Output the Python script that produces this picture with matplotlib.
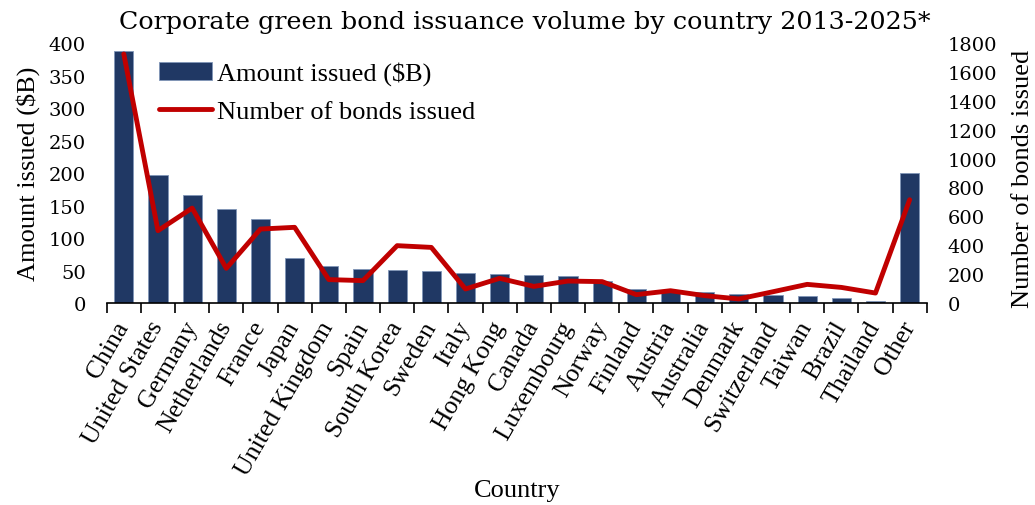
import matplotlib
matplotlib.use("Agg")
import matplotlib.pyplot as plt
import numpy as np
from matplotlib.ticker import FixedLocator, MultipleLocator

countries = ["China", "United States", "Germany", "Netherlands", "France", "Japan",
             "United Kingdom", "Spain", "South Korea", "Sweden", "Italy", "Hong Kong",
             "Canada", "Luxembourg", "Norway", "Finland", "Austria", "Australia",
             "Denmark", "Switzerland", "Taiwan", "Brazil", "Thailand", "Other"]
amount_issued = [388, 197, 166, 144, 129, 70, 57, 52, 51, 49, 46, 45,
                 43, 42, 34, 21.5, 19, 16.4, 13.3, 13, 11, 7.7, 3.6, 200]
bonds_issued = [1724, 501, 657, 240, 512, 524, 162, 155, 397, 385, 97, 171,
                115, 152, 148, 58, 85, 51, 28, 78, 129, 108, 69, 715]

plt.rcParams['font.family'] = ['Liberation Serif', 'DejaVu Serif']
num_font = ['DejaVu Serif']

fig = plt.figure(figsize=(10.35, 5.06), dpi=100)
ax = fig.add_axes([0.1031, 0.3992, 0.7923, 0.5138])
ax2 = ax.twinx()

x = np.arange(len(countries))
bars = ax.bar(x, amount_issued, width=0.56, color='#203864', edgecolor='#8096b8',
              linewidth=0.6, label='Amount issued ($B)', zorder=2)
line, = ax2.plot(x, bonds_issued, color='#C00000', linewidth=3.5,
                 solid_joinstyle='round', solid_capstyle='round',
                 label='Number of bonds issued', zorder=3)

ax.set_xlim(-0.5, len(countries) - 0.5)
ax.set_ylim(0, 400)
ax2.set_ylim(0, 1800)
ax.yaxis.set_major_locator(MultipleLocator(50))
ax2.yaxis.set_major_locator(MultipleLocator(200))

for a in (ax, ax2):
    for s in ('top', 'left', 'right'):
        a.spines[s].set_visible(False)
ax2.spines['bottom'].set_visible(False)
ax.spines['bottom'].set_linewidth(1.2)

ax.set_xticks(x)
ax.set_xticklabels(countries, rotation=60, ha='right', va='center',
                   rotation_mode='anchor', fontsize=18.5)
ax.tick_params(axis='x', which='major', length=0, pad=14)
ax.xaxis.set_minor_locator(FixedLocator(np.arange(-0.5, len(countries), 1.0)))
ax.tick_params(axis='x', which='minor', length=7, width=1.2, direction='out')

ax.tick_params(axis='y', length=0, pad=15)
ax2.tick_params(axis='y', length=0, pad=15)
for lab in ax.get_yticklabels() + ax2.get_yticklabels():
    lab.set_fontfamily(num_font)
    lab.set_fontsize(14)

ax.set_ylabel('Amount issued ($B)', fontsize=19)
ax.yaxis.set_label_coords(-0.096, 0.50)
ax.yaxis.label.set_va('center')
ax2.set_ylabel('Number of bonds issued', fontsize=19)
ax2.yaxis.set_label_coords(1.117, 0.48)
ax2.yaxis.label.set_va('center')
ax.set_xlabel('Country', fontsize=19)
ax.xaxis.set_label_coords(0.5, -0.72)
ax.xaxis.label.set_va('center')

fig.text(525 / 1035, 1 - 22 / 506,
         'Corporate green bond issuance volume by country 2013-2025*',
         fontsize=18.3, ha='center', va='center', family=['DejaVu Serif'])

ax.legend([bars, line], ['Amount issued ($B)', 'Number of bonds issued'],
          loc='upper left', bbox_to_anchor=(0.035, 1.02), frameon=False,
          fontsize=19, handlelength=2.0, handletextpad=0.2, labelspacing=0.55,
          borderpad=0.4)

fig.savefig('out.png', dpi=100)
